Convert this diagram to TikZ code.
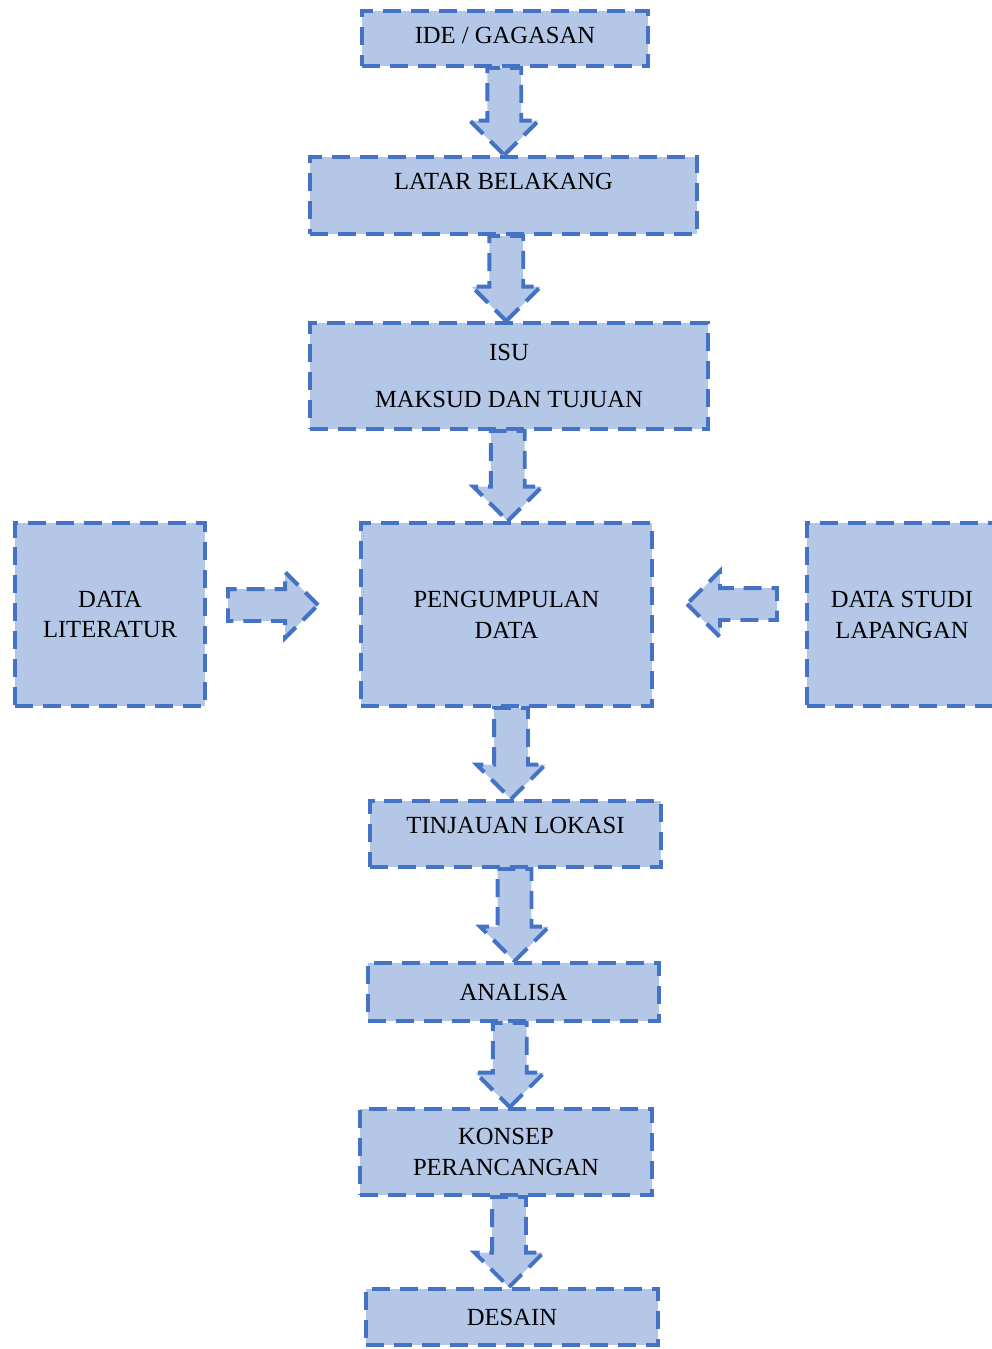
\documentclass[tikz,border=0pt]{standalone}
\usepackage{fontspec}
\setmainfont{Liberation Serif}
\usetikzlibrary{shapes.arrows,calc}
\definecolor{boxfill}{HTML}{B4C7E7}
\definecolor{boxline}{HTML}{4472C4}
\tikzset{
  dashline/.style={draw=boxline, line width=2.8pt, dash pattern=on 12.8pt off 7.1pt},
  box/.style={dashline, fill=boxfill, rectangle, align=center, inner sep=2pt,
    font=\fontsize{17.5}{22}\selectfont},
  downarrow/.style={dashline, fill=boxfill, single arrow, rotate=-90, anchor=tail,
    inner xsep=0pt, inner ysep=0.375cm, outer sep=0pt, single arrow head extend=0.4375cm},
  sidearrow/.style={dashline, fill=boxfill, single arrow, anchor=tail, inner xsep=0pt,
    inner ysep=0.35cm, outer sep=0pt, minimum height=2.25cm,
    single arrow head extend=0.425cm}
}
\begin{document}
\begin{tikzpicture}[x=0.025cm,y=-0.025cm]
  \useasboundingbox (0,0) rectangle (992,1349);
  \clip (0,0) rectangle (992,1349);
  % boxes
  \node[box, minimum width=7.15cm, minimum height=1.375cm, text height=12pt, text depth=5pt] (ide) at (505,38.5) {IDE / GAGASAN};
  \node[box, minimum width=9.675cm, minimum height=1.925cm, text height=12pt, text depth=20pt] (latar) at (503.5,195.5) {LATAR BELAKANG};
  \node[box, minimum width=9.95cm, minimum height=2.65cm] (isu) at (509,376) {ISU\\[12pt]MAKSUD DAN TUJUAN};
  \node[box, minimum width=7.275cm, minimum height=4.575cm] (kumpul) at (506.5,614.5) {PENGUMPULAN\\DATA};
  \node[box, minimum width=4.75cm, minimum height=4.575cm] (literatur) at (110,614.5) {DATA\\LITERATUR};
  \node[box, minimum width=4.75cm, minimum height=4.575cm] (lapangan) at (902,614.5) {DATA STUDI\\LAPANGAN};
  \node[box, minimum width=7.275cm, minimum height=1.65cm, text height=12pt, text depth=13pt] (tinjauan) at (515.5,834) {TINJAUAN LOKASI};
  \node[box, minimum width=7.275cm, minimum height=1.45cm] (analisa) at (513.5,992) {ANALISA};
  \node[box, minimum width=7.3cm, minimum height=2.15cm] (konsep) at (506,1152) {KONSEP\\PERANCANGAN};
  \node[box, minimum width=7.3cm, minimum height=1.4cm] (desain) at (512,1317) {DESAIN};
  % arrows down the middle
  \foreach \a/\b in {ide/latar,latar/isu,isu/kumpul,kumpul/tinjauan,tinjauan/analisa,analisa/konsep,konsep/desain}
    \path let \p1=($(\a.south)!.5!(\b.north)$), \p2=(\a.south), \p3=(\b.north),
      \n1={\y2-\y3} in
      node[downarrow, minimum height=\n1] (\a-\b) at (\x1,\y2) {};
  % side arrows
  \node[sidearrow] (literatur-kumpul) at ($(literatur.east)+(21,-9.5)$) {};
  \node[sidearrow, rotate=180] (lapangan-kumpul) at ($(lapangan.west)+(-28,-10.5)$) {};
\end{tikzpicture}
\end{document}
